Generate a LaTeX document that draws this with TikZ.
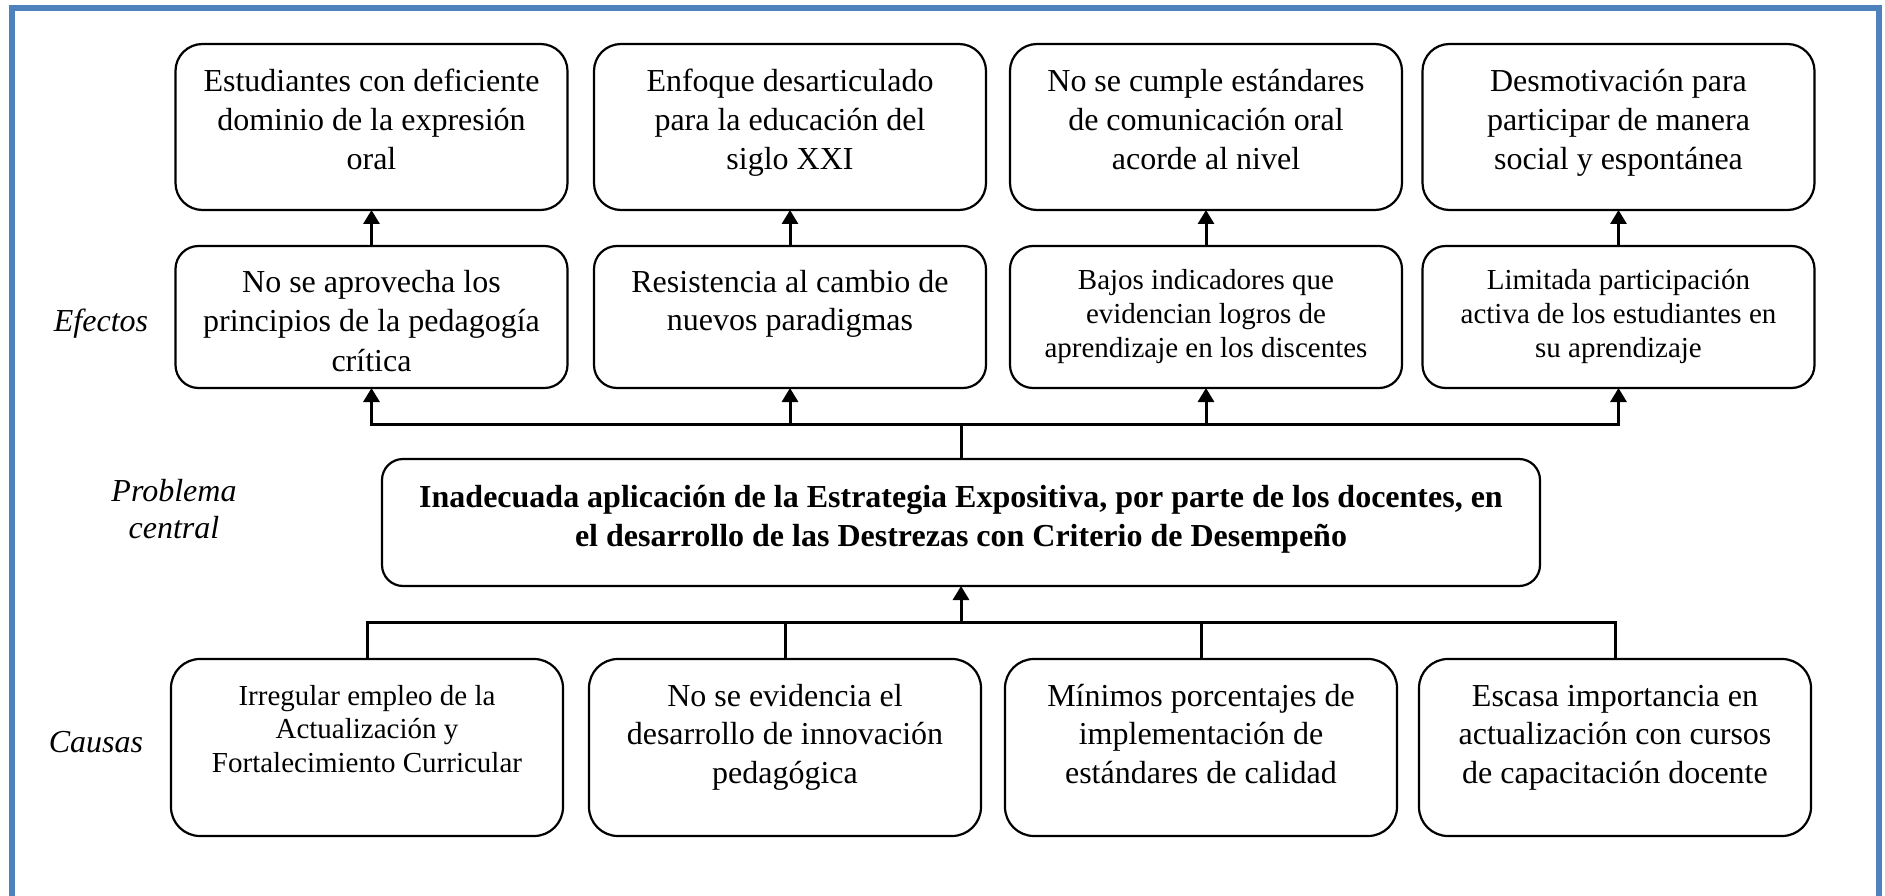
\documentclass[tikz,border=0pt]{standalone}
\usepackage{fontspec}
\setmainfont{Liberation Serif}
\usetikzlibrary{arrows.meta}
\definecolor{frameblue}{HTML}{4F81BD}
\newcommand{\boxtxt}[6][46pt]{\parbox[c][#2][t]{#3}{\centering\fontsize{#4}{#5}\selectfont\rule{0pt}{#1}#6}}
\begin{document}
\begin{tikzpicture}[x=1pt,y=1pt,
  bx/.style={draw, line width=2.2pt, inner sep=0pt, outer sep=0pt},
  toprow/.style={bx, rounded corners=27pt},
  midrow/.style={bx, rounded corners=23pt},
  botrow/.style={bx, rounded corners=29pt},
  conn/.style={line width=3pt},
  arr/.style={line width=3pt, -{Triangle[length=14pt,width=16pt]}},
  lab/.style={font=\fontsize{32}{37}\selectfont\itshape, align=center, inner sep=0pt}]
\useasboundingbox (0,0) rectangle (1885,-896);
\draw[frameblue, line width=6.5pt] (12,-8) rectangle (1879,-900);

% top row (effects, upper)
\node[toprow] (t1) at (371.5,-127) {\boxtxt[48pt]{166pt}{392pt}{32}{39}{Estudiantes con deficiente\\dominio de la expresión\\oral}};
\node[toprow] (t2) at (790,-127) {\boxtxt[48pt]{166pt}{392pt}{32}{39}{Enfoque desarticulado\\para la educación del\\siglo XXI}};
\node[toprow] (t3) at (1206,-127) {\boxtxt[48pt]{166pt}{392pt}{32}{39}{No se cumple estándares\\de comunicación oral\\acorde al nivel}};
\node[toprow] (t4) at (1618.5,-127) {\boxtxt[48pt]{166pt}{392pt}{32}{39}{Desmotivación para\\participar de manera\\social y espontánea}};

% middle row (effects, lower)
\node[midrow] (m1) at (371.5,-317) {\boxtxt{142pt}{392pt}{32}{39.5}{No se aprovecha los\\principios de la pedagogía\\crítica}};
\node[midrow] (m2) at (790,-317) {\boxtxt{142pt}{392pt}{32}{38.5}{Resistencia al cambio de\\nuevos paradigmas}};
\node[midrow] (m3) at (1206,-317) {\boxtxt[43pt]{142pt}{392pt}{29}{34}{Bajos indicadores que\\evidencian logros de\\aprendizaje en los discentes}};
\node[midrow] (m4) at (1618.5,-317) {\boxtxt[43pt]{142pt}{392pt}{29}{34}{Limitada participación\\activa de los estudiantes en\\su aprendizaje}};

% central problem
\node[bx, rounded corners=21pt] (c) at (961,-522.5) {\boxtxt[48pt]{127pt}{1158pt}{32}{39}{\bfseries Inadecuada aplicación de la Estrategia Expositiva, por parte de los docentes, en\\el desarrollo de las Destrezas con Criterio de Desempeño}};

% bottom row (causes)
\node[botrow] (b1) at (367,-747.5) {\boxtxt[46pt]{177pt}{392pt}{29}{33.5}{Irregular empleo de la\\Actualización y\\Fortalecimiento Curricular}};
\node[botrow] (b2) at (785,-747.5) {\boxtxt[47pt]{177pt}{392pt}{32}{38.5}{No se evidencia el\\desarrollo de innovación\\pedagógica}};
\node[botrow] (b3) at (1201,-747.5) {\boxtxt[47pt]{177pt}{392pt}{32}{38.5}{Mínimos porcentajes de\\implementación de\\estándares de calidad}};
\node[botrow] (b4) at (1615,-747.5) {\boxtxt[47pt]{177pt}{392pt}{32}{38.5}{Escasa importancia en\\actualización con cursos\\de capacitación docente}};

% side labels
\node[lab, anchor=base] (lefe) at (101,-331) {Efectos};
\node[lab] (lpro) at (174,-509) {Problema\\central};
\node[lab, anchor=base] (lcau) at (96,-752) {Causas};

% connectors: middle -> top
\draw[arr] (m1.north) -- (t1.south);
\draw[arr] (m2.north) -- (t2.south);
\draw[arr] (m3.north) -- (t3.south);
\draw[arr] (m4.north) -- (t4.south);

% central -> effects
\coordinate (jt) at (961,-424);
\draw[conn] (c.north) -- (jt);
\draw[arr] (jt) -| (m1.south);
\draw[arr] (jt) -| (m4.south);
\draw[arr] (m2.south |- jt) -- (m2.south);
\draw[arr] (m3.south |- jt) -- (m3.south);

% causes -> central
\coordinate (jb) at (961,-622);
\draw[conn] (b1.north) |- (b4.north |- jb) -- (b4.north);
\draw[conn] (b2.north) -- (b2.north |- jb);
\draw[conn] (b3.north) -- (b3.north |- jb);
\draw[arr] (jb) -- (c.south);
\end{tikzpicture}
\end{document}
